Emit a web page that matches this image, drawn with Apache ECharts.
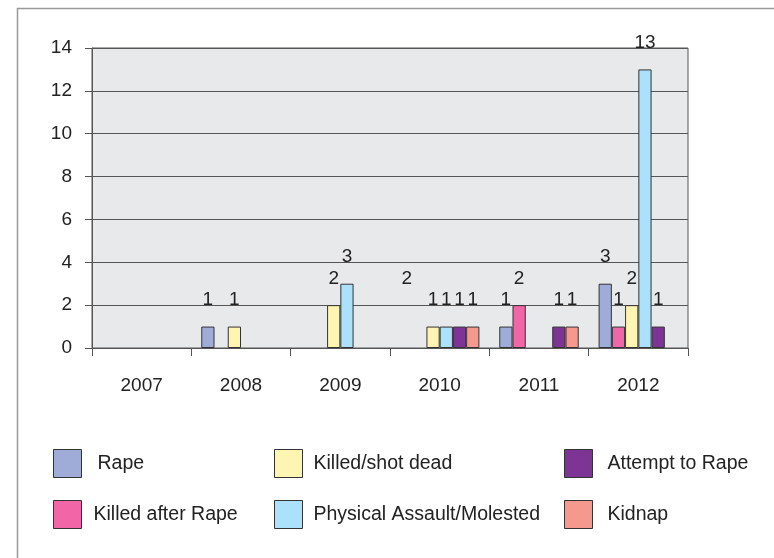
<!DOCTYPE html>
<html>
<head>
<meta charset="utf-8">
<style>
html,body{margin:0;padding:0;background:#fff;}
#chart{width:774px;height:558px;}
</style>
<script src="https://cdn.jsdelivr.net/npm/echarts@6/dist/echarts.min.js"></script>
</head>
<body>
<div id="chart"></div>
<script>
// ---- data ----
var years = ['2007', '2008', '2009', '2010', '2011', '2012'];
var seriesNames = ['Rape', 'Killed after Rape', 'Killed/shot dead', 'Physical Assault/Molested', 'Attempt to Rape', 'Kidnap'];
var rape            = [0, 1, 0, 0, 1, 3];
var killedAfterRape = [0, 0, 0, 0, 2, 1];
var killedShotDead  = [0, 1, 2, 1, 0, 2];
var physicalAssault = [0, 0, 3, 1, 0, 13];
var attemptToRape   = [0, 0, 0, 1, 1, 1];
var kidnap          = [0, 0, 0, 1, 1, 0];
var yTicks = [0, 2, 4, 6, 8, 10, 12, 14];
// stray label printed in the source chart (2010, Rape slot)
var strayLabelYears = ['2010'];
var strayLabelValues = [2];

var colors = ['#A0ACD8', '#F066A6', '#FFF5B3', '#ABE1FA', '#7E3494', '#F5998F'];
var values = [rape, killedAfterRape, killedShotDead, physicalAssault, attemptToRape, kidnap];
var FONT = "'Liberation Sans', Arial, sans-serif";
var NUM_SIZE = 19;

var chart = echarts.init(document.getElementById('chart'));

var series = seriesNames.map(function (n, i) {
  return {
    name: n,
    type: 'bar',
    // zero counts draw no bar (no outline)
    data: values[i].map(function (v) { return v === 0 ? '-' : v; }),
    barGap: 0,
    barCategoryGap: '20%',
    itemStyle: { color: colors[i], borderColor: '#333', borderWidth: 1 },
    label: {
      show: true, position: 'top', distance: 17,
      fontFamily: FONT, fontSize: NUM_SIZE, color: '#222',
      formatter: function (p) { return p.value ? String(p.value) : ''; }
    }
  };
});
series.push({
  type: 'scatter',
  symbolSize: 0,
  itemStyle: { opacity: 1, color: '#222' },
  data: strayLabelYears.map(function (y, k) { return [y, strayLabelValues[k]]; }),
  label: {
    show: true, position: 'top', distance: 17, offset: [-33, 0],
    fontFamily: FONT, fontSize: NUM_SIZE, color: '#222', opacity: 1,
    formatter: function (p) { return String(p.value[1]); }
  },
  silent: true
});

// legend: three columns, two rows (row-major)
var legendSlots = [
  { name: 'Rape', left: 53, top: 449, pad: 11 },
  { name: 'Killed/shot dead', left: 274, top: 449, pad: 6 },
  { name: 'Attempt to Rape', left: 564, top: 449, pad: 10 },
  { name: 'Killed after Rape', left: 53, top: 500, pad: 7 },
  { name: 'Physical Assault/Molested', left: 274, top: 500, pad: 6 },
  { name: 'Kidnap', left: 564, top: 500, pad: 10 }
];
var legends = legendSlots.map(function (s) {
  return {
    data: [s.name], left: s.left, top: s.top, padding: 0,
    itemWidth: 28, itemHeight: 28, icon: 'rect',
    selectedMode: false,
    itemStyle: { borderColor: '#333', borderWidth: 1 },
    textStyle: { fontFamily: FONT, fontSize: 19.5, color: '#222', padding: [0, 0, 0, s.pad] }
  };
});

chart.setOption({
  animation: false,
  backgroundColor: '#fff',
  color: colors,
  graphic: [{
    type: 'rect', shape: { x: 17.5, y: 8.5, width: 800, height: 600 },
    style: { fill: 'none', stroke: '#999', lineWidth: 1.5 }, silent: true
  }],
  legend: legends,
  grid: {
    left: 92, top: 48, width: 596, height: 300,
    show: true, backgroundColor: '#E8E9EB', borderColor: '#555', borderWidth: 1
  },
  xAxis: {
    type: 'category', data: years,
    axisLine: { lineStyle: { color: '#555', width: 1 } },
    axisTick: { show: true, length: 8, lineStyle: { color: '#555' } },
    axisLabel: { margin: 28, fontFamily: FONT, fontSize: NUM_SIZE, color: '#222' }
  },
  yAxis: {
    type: 'value', min: yTicks[0], max: yTicks[yTicks.length - 1], interval: 2,
    axisLine: { show: true, lineStyle: { color: '#555', width: 1 } },
    axisTick: { show: true, length: 7, lineStyle: { color: '#555' } },
    splitLine: { lineStyle: { color: '#555', width: 1 } },
    axisLabel: { margin: 20, fontFamily: FONT, fontSize: NUM_SIZE, color: '#222' }
  },
  series: series
});
</script>
</body>
</html>
